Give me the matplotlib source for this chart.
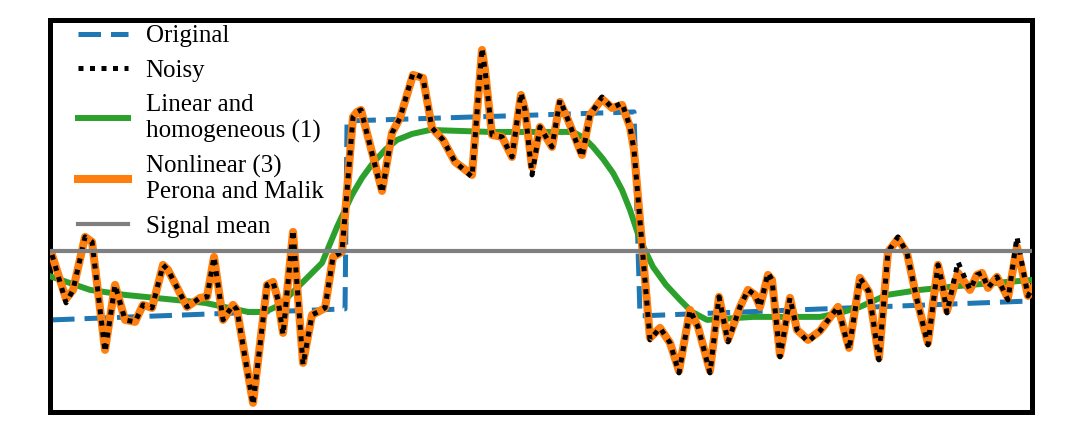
import numpy as np
import matplotlib
matplotlib.use("Agg")
import matplotlib.pyplot as plt

plt.rcParams['font.family'] = ['Liberation Serif', 'DejaVu Serif']

# original piecewise signal
orig_x = [0.0, 29.3, 29.5, 58.2, 58.8, 98.1]
orig_y = [0.00, 0.11, 1.99, 2.08, 0.04, 0.19]

# noisy signal
noisy_x = [0.0, 1.4, 2.1, 3.3, 4.0, 5.3, 6.3, 7.3, 8.3, 9.1, 10.0, 11.1, 11.6,
           13.5, 14.8, 15.5, 16.2, 17.1, 18.1, 18.5, 20.1, 21.5, 22.1, 22.6,
           23.1, 24.1, 25.1, 26.0, 26.6, 27.3, 28.1, 29.0, 30.1, 30.5, 30.9,
           33.0, 34.0, 34.8, 36.1, 37.1, 38.0, 39.1, 40.3, 42.0, 43.0, 43.3,
           44.0, 45.0, 46.0, 46.9, 47.3, 48.0, 48.8, 50.0, 50.8, 51.6, 53.0,
           53.8, 55.0, 56.0, 57.0, 57.8, 58.2, 59.8, 60.8, 61.8, 62.7, 63.8,
           64.6, 65.8, 66.7, 67.6, 68.8, 69.6, 70.3, 70.8, 71.6, 72.0, 72.8,
           73.8, 74.5, 75.6, 76.8, 78.6, 79.7, 80.8, 81.7, 82.7, 83.6, 84.6,
           85.5, 86.5, 87.6, 88.6, 89.0, 89.5, 90.6, 91.8, 92.5, 93.0, 93.6,
           94.5, 95.6, 96.5, 97.6, 98.1]
noisy_y = [0.65, 0.17, 0.30, 0.83, 0.78, -0.32, 0.35, 0.00, -0.02, 0.15, 0.12,
           0.55, 0.50, 0.13, 0.22, 0.23, 0.63, 0.00, 0.15, 0.10, -0.85, 0.35,
           0.38, 0.20, -0.15, 0.90, -0.45, 0.05, 0.08, 0.12, 0.63, 0.68, 2.03,
           2.08, 2.10, 1.27, 1.87, 2.02, 2.47, 2.42, 1.92, 1.80, 1.58, 1.43,
           2.72, 2.50, 1.85, 1.83, 1.63, 2.27, 2.10, 1.45, 1.93, 1.73, 2.20,
           2.00, 1.63, 2.05, 2.23, 2.12, 2.17, 1.93, 1.70, -0.20, -0.08, -0.23,
           -0.53, 0.10, -0.07, -0.53, 0.23, -0.22, 0.13, 0.30, 0.25, 0.13, 0.47,
           0.40, -0.37, 0.22, -0.10, -0.22, -0.11, 0.13, -0.30, 0.42, 0.28,
           -0.40, 0.68, 0.83, 0.67, 0.20, -0.25, 0.55, 0.38, 0.07, 0.58, 0.30,
           0.45, 0.47, 0.32, 0.43, 0.20, 0.83, 0.24, 0.32]

# Perona-Malik result: follows the noisy one, a bit shallower at some spikes
pm_y = [0.65, 0.21, 0.30, 0.83, 0.78, -0.30, 0.35, 0.00, -0.02, 0.15, 0.12,
        0.55, 0.50, 0.13, 0.22, 0.23, 0.63, 0.00, 0.15, 0.10, -0.83, 0.35,
        0.38, 0.20, -0.13, 0.88, -0.43, 0.05, 0.08, 0.12, 0.63, 0.68, 2.03,
        2.08, 2.10, 1.29, 1.87, 2.02, 2.45, 2.42, 1.92, 1.80, 1.58, 1.45,
        2.70, 2.50, 1.85, 1.83, 1.63, 2.25, 2.10, 1.53, 1.93, 1.73, 2.18,
        2.00, 1.65, 2.05, 2.21, 2.12, 2.15, 1.93, 1.70, -0.18, -0.08, -0.23,
        -0.51, 0.10, -0.07, -0.51, 0.23, -0.20, 0.13, 0.30, 0.25, 0.13, 0.45,
        0.40, -0.35, 0.22, -0.10, -0.20, -0.11, 0.13, -0.28, 0.42, 0.28,
        -0.38, 0.68, 0.81, 0.67, 0.20, -0.23, 0.55, 0.38, 0.09, 0.47, 0.30,
        0.45, 0.47, 0.32, 0.43, 0.22, 0.73, 0.24, 0.32]

# linear homogeneous diffusion result
lin_x = [0.0, 3.8, 7.3, 10.3, 15.3, 19.6, 21.3, 22.8, 24.6, 26.3, 27.0, 28.5,
         30.0, 31.0, 32.1, 33.3, 34.5, 36.0, 37.8, 43.8, 52.1, 53.2, 54.1, 55.1,
         56.1, 57.0, 57.8, 58.8, 60.1, 61.4, 62.8, 64.0, 65.5, 70.1, 76.8,
         78.8, 80.8, 83.5, 86.8, 91.8, 98.1]
lin_y = [0.43, 0.30, 0.25, 0.22, 0.17, 0.08, 0.08, 0.15, 0.33, 0.50, 0.57,
         0.93, 1.25, 1.42, 1.57, 1.70, 1.80, 1.86, 1.90, 1.88, 1.88, 1.82,
         1.73, 1.61, 1.47, 1.30, 1.10, 0.80, 0.53, 0.35, 0.20, 0.08, 0.00,
         0.03, 0.03, 0.07, 0.13, 0.25, 0.30, 0.35, 0.40]

signal_mean = 0.69

fig = plt.figure(figsize=(10.88, 4.34), dpi=100)
ax = fig.add_axes([0.046, 0.051, 0.9025, 0.903])

h_orig, = ax.plot(orig_x, orig_y, color='#1f77b4', lw=3.6, ls=(0, (4.5, 2.0)),
                  label='Original', zorder=2)
h_lin, = ax.plot(lin_x, lin_y, color='#2ca02c', lw=4.3,
                 label='Linear and\nhomogeneous (1)', zorder=3)
h_pm, = ax.plot(noisy_x, pm_y, color='#ff7f0e', lw=5.8,
                label='Nonlinear (3)\nPerona and Malik', zorder=4)
h_noisy, = ax.plot(noisy_x, noisy_y, color='black', lw=3.6, ls=(0, (1, 1.3)),
                   label='Noisy', zorder=5)
h_mean = ax.axhline(signal_mean, color='#7f7f7f', lw=3.0, label='Signal mean',
                    zorder=6)

ax.set_xlim(-0.2, 98.0)
ax.set_ylim(-0.92, 3.0)
ax.set_xticks([])
ax.set_yticks([])
for s in ax.spines.values():
    s.set_linewidth(3.6)

ax.legend(handles=[h_orig, h_noisy, h_lin, h_pm, h_mean], loc='upper left',
          frameon=False, fontsize=18, handlelength=2.0, handletextpad=0.72,
          labelspacing=0.48, borderaxespad=0.0, borderpad=0.2,
          bbox_to_anchor=(0.023, 1.0))

fig.savefig('out.png', dpi=100)
